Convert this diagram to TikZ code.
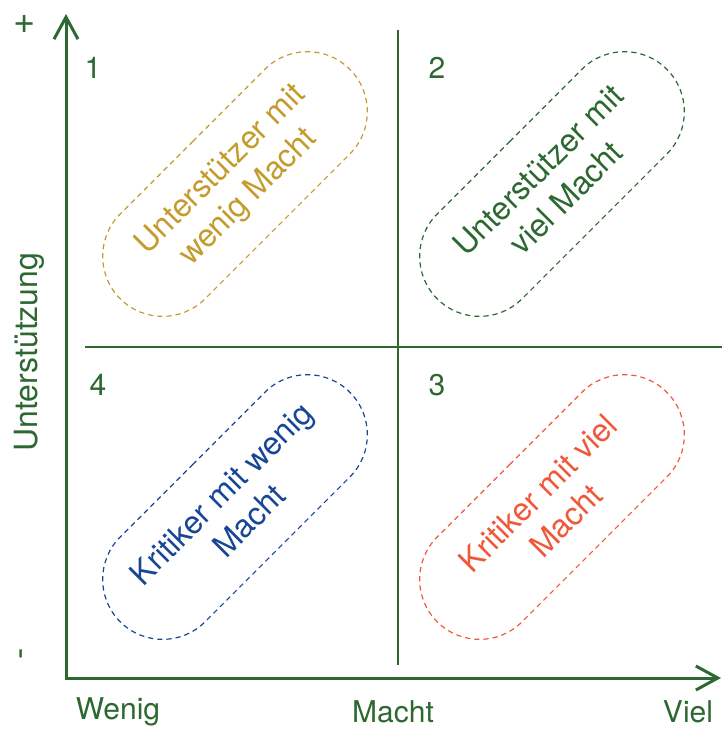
\documentclass[tikz,border=0pt]{standalone}
\usepackage{fontspec}
\setmainfont{TeX Gyre Heros}
\usepackage{tikz}
\usetikzlibrary{arrows.meta,shapes.misc}

\definecolor{axisgreen}{RGB}{44,104,48}
\definecolor{pillgold}{RGB}{196,156,46}
\definecolor{pillblue}{RGB}{24,70,150}
\definecolor{pillred}{RGB}{240,88,58}

\tikzset{
  axis/.style={axisgreen,line width=1.5pt,line join=miter},
  quad/.style={axisgreen,line width=0.7pt},
  lbl/.style={text=axisgreen,inner sep=0pt,font=\fontsize{15}{18}\selectfont},
  pill/.style={draw=#1,text=#1,dash pattern=on 2.6pt off 2pt,line width=0.6pt,
    rounded rectangle,minimum width=169pt,minimum height=60pt,rotate=45,
    align=center,font=\fontsize{16}{19.5}\selectfont},
}

\begin{document}
\begin{tikzpicture}[x=0.5pt,y=-0.5pt]
			\useasboundingbox (0,0) rectangle (722,729);
			% axes
			\coordinate (ytop) at (66,14);
			\coordinate (origin) at (66,678);
			\coordinate (xend) at (721,678);
			\draw [axis,{Straight Barb[length=11pt,width=12pt]}-{Straight Barb[length=11pt,width=12pt]}] (ytop)--(origin)--(xend);
			% quadrants
			\coordinate (qtop) at (398,30);
			\coordinate (qbot) at (398,665);
			\coordinate (qleft) at (85,347);
			\coordinate (qright) at (722,347);
			\draw [quad] (qtop)--(qbot);
			\draw [quad] (qleft)--(qright);
			% axis labels
			\node [lbl,font=\fontsize{19}{22}\selectfont] (plus) at (25,24) {+};
			\node [lbl,font=\fontsize{17}{20}\selectfont,rotate=90] (minus) at (25,654) {-};
			\node [lbl,font=\fontsize{16}{19}\selectfont,rotate=90] (ylabel) at (29,352) {Unterstützung};
			\node [lbl] (wenig) at (118,712) {Wenig};
			\node [lbl] (macht) at (393,712) {Macht};
			\node [lbl] (viel) at (688,712) {Viel};
			% quadrant numbers
			\node [lbl] (n1) at (93,68) {1};
			\node [lbl] (n2) at (437,68) {2};
			\node [lbl] (n3) at (437,385) {3};
			\node [lbl] (n4) at (98,385) {4};
			% groups
			\node [pill=pillgold] (supweak) at (235,184) {Unterstützer mit\\wenig Macht};
			\node [pill=axisgreen] (supstrong) at (552,184) {Unterstützer mit\\viel Macht};
			\node [pill=pillblue] (critweak) at (235,507) {Kritiker mit wenig\\Macht};
			\node [pill=pillred] (critstrong) at (552,507) {Kritiker mit viel\\Macht};
		\end{tikzpicture}
\end{document}
